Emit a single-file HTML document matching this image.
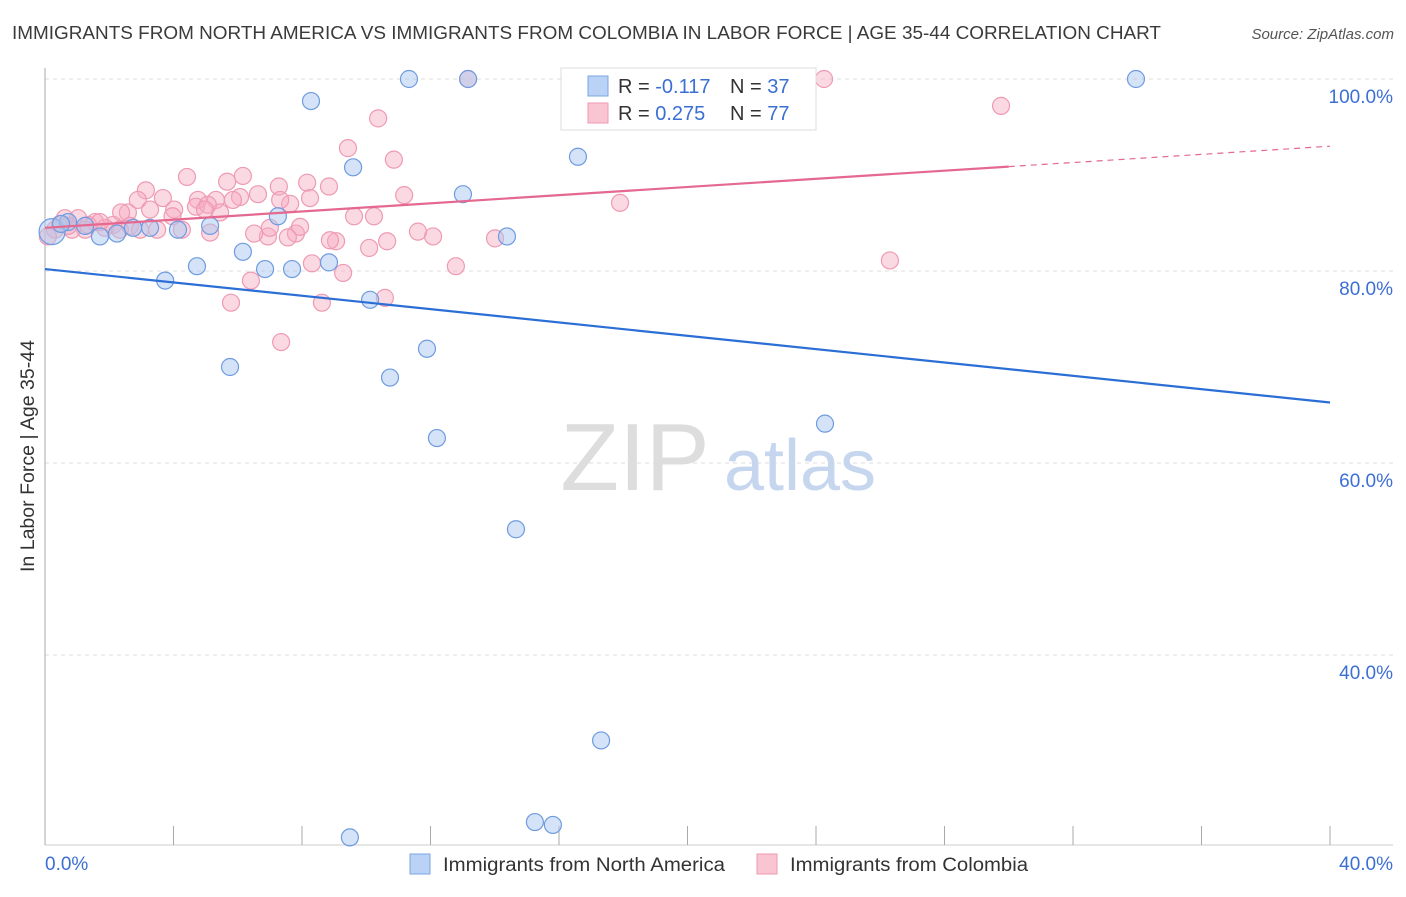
<!DOCTYPE html>
<html><head><meta charset="utf-8">
<style>
body{margin:0;background:#fff;font-family:"Liberation Sans",sans-serif;}
svg text{font-family:"Liberation Sans",sans-serif;}
</style></head>
<body>
<svg id="chart" width="1406" height="892" xmlns="http://www.w3.org/2000/svg">
<text x="12" y="39" font-size="18" fill="#3a3a3a" textLength="1149" lengthAdjust="spacingAndGlyphs">IMMIGRANTS FROM NORTH AMERICA VS IMMIGRANTS FROM COLOMBIA IN LABOR FORCE | AGE 35-44 CORRELATION CHART</text>
<text x="1394" y="39" font-size="15" fill="#555" text-anchor="end" font-style="italic">Source: ZipAtlas.com</text>
<g id="grid"></g>
<g>
<text x="635" y="490" font-size="96" font-family="Liberation Serif" fill="#ddd" text-anchor="middle">ZIP</text>
<text x="800" y="490" font-size="72" fill="#c5d6ee" text-anchor="middle">atlas</text>
</g>
<g id="marks"></g>
<text transform="translate(34,456) rotate(-90)" font-size="19" fill="#333" text-anchor="middle" textLength="232" lengthAdjust="spacingAndGlyphs">In Labor Force | Age 35-44</text>
<g>
<rect x="561" y="68" width="255" height="62" fill="#fff" stroke="#ddd"/>
<rect x="588" y="76" width="20" height="20" fill="#b9d2f5" stroke="#7aa5e0"/>
<rect x="588" y="103" width="20" height="20" fill="#f9c5d3" stroke="#ee9ab2"/>
<text x="618" y="93" font-size="20" fill="#333">R = <tspan fill="#3b6fd4">-0.117</tspan></text>
<text x="730" y="93" font-size="20" fill="#333">N = <tspan fill="#3b6fd4">37</tspan></text>
<text x="618" y="120" font-size="20" fill="#333">R = <tspan fill="#3b6fd4"> 0.275</tspan></text>
<text x="730" y="120" font-size="20" fill="#333">N = <tspan fill="#3b6fd4">77</tspan></text>
</g>
<g>
<rect x="410" y="854" width="20" height="20" fill="#b9d2f5" stroke="#7aa5e0"/>
<text x="443" y="871" font-size="19" fill="#333" textLength="282" lengthAdjust="spacingAndGlyphs">Immigrants from North America</text>
<rect x="757" y="854" width="20" height="20" fill="#f9c5d3" stroke="#ee9ab2"/>
<text x="790" y="871" font-size="19" fill="#333" textLength="238" lengthAdjust="spacingAndGlyphs">Immigrants from Colombia</text>
</g>
</svg>
<script>
const xTicks=[0,4,8,12,16,20,24,28,32,36,40];
const yTicks=[40,60,80,100];
const yTickLabels=["40.0%","60.0%","80.0%","100.0%"];
const xEndLabels=["0.0%","40.0%"];
const naX=[0.22,0.72,1.71,2.24,2.74,3.27,3.74,4.14,4.73,5.14,5.76,6.16,6.85,7.25,7.69,8.28,8.84,9.59,10.12,10.74,11.33,11.89,12.2,13.01,13.17,14.38,14.66,16.59,17.31,15.25,15.81,9.49,20.76,24.28,33.96,1.25,0.5];
const naY=[84.1,85.1,83.6,83.9,84.5,84.5,79.0,84.3,80.5,84.7,70.0,82.0,80.2,85.7,80.2,97.7,80.9,90.8,77.0,68.9,100,71.9,62.6,88.0,100,83.6,53.1,91.9,31.1,22.6,22.3,21.0,100,64.1,100,84.7,84.9];
const coX=[13.17,24.25,29.76,10.37,9.43,10.86,4.42,6.16,5.67,8.16,7.28,8.84,3.14,11.18,17.9,26.3,12.79,9.28,10.58,5.79,8.62,7.35,6.41,12.08,14.01,10.09,8.31,9.62,10.24,9.06,10.65,6.94,6.51,7.81,5.14,4.26,3.49,2.89,3.67,4.76,5.32,4.70,4.02,2.58,2.37,3.27,5.45,7.63,6.63,6.07,5.85,5.07,2.12,1.56,1.03,0.62,0.31,0.09,1.25,1.87,0.84,1.34,2.65,2.96,7.94,7.0,7.56,0.47,1.71,3.97,4.98,8.25,8.87,7.32,11.61,2.33,0.72];
const coY=[100,100,97.2,95.9,92.8,91.6,89.8,89.9,89.3,89.2,88.8,88.8,88.4,87.9,87.1,81.1,80.5,79.8,77.2,76.7,76.7,72.6,79.0,83.6,83.4,82.4,80.8,85.7,85.7,83.1,83.1,83.6,83.9,83.9,84.0,84.3,84.3,87.4,87.6,87.4,87.4,86.7,86.4,86.1,86.1,86.4,86.1,87.0,88.0,87.7,87.4,86.9,84.8,85.1,85.5,85.5,84.3,83.6,84.3,84.5,84.3,84.8,84.7,84.3,84.6,84.5,83.5,84.9,85.1,85.7,86.4,87.6,83.2,87.4,84.1,84.3,84.7];
const naLine=[80.2,66.3];
const coLine=[84.5,93.0];
const coSolidEnd=30;
const X=v=>45+v*32.125, Y=v=>79+(100-v)*9.6;
const NS="http://www.w3.org/2000/svg";
function mk(tag,attrs,parent){const e=document.createElementNS(NS,tag);for(const k in attrs)e.setAttribute(k,attrs[k]);parent.appendChild(e);return e;}
const grid=document.getElementById('grid'), marks=document.getElementById('marks');
yTicks.forEach((t,i)=>{
 const l=mk('line',{x1:45,x2:1393,y1:Y(t),y2:Y(t),stroke:'#ddd','stroke-dasharray':'4,4'},grid);
 
 
 const tx=mk('text',{x:1393,y:Y(t)+24,'font-size':19,fill:'#3b6fd4','text-anchor':'end'},grid);
 tx.textContent=yTickLabels[i];
 
 
});
const ax=mk('line',{x1:45,x2:45,y1:68,y2:845,stroke:'#aaa'},grid);


const bx=mk('line',{x1:45,x2:1393,y1:845,y2:845,stroke:'#ccc'},grid);


xTicks.forEach(t=>{
 const l=mk('line',{x1:X(t),x2:X(t),y1:826,y2:845,stroke:'#aaa'},grid);
 
 
});
[[0,'start'],[40,'end']].forEach((p,i)=>{
 const tx=mk('text',{x:i?1393:45,y:870,'font-size':19,fill:'#3b6fd4','text-anchor':p[1]},grid);
 tx.textContent=xEndLabels[i];
 
 
});
coX.forEach((x,i)=>{
 const c=mk('circle',{cx:X(x),cy:Y(coY[i]),r:8.5,fill:'rgba(246,170,192,0.45)',stroke:'#ee9ab2','stroke-width':1.2},marks);
 
 
});
naX.forEach((x,i)=>{
 const c=mk('circle',{cx:X(x),cy:Y(naY[i]),r:i==0?13:8.5,fill:'rgba(170,200,240,0.5)',stroke:'#6f9be0','stroke-width':1.2},marks);
 
 
});
const lv=(a,x)=>a[0]+(a[1]-a[0])*x/40;
const bl=mk('line',{x1:X(0),y1:Y(naLine[0]),x2:X(40),y2:Y(naLine[1]),stroke:'#2a6ed6','stroke-width':2.2},marks);


const pl=mk('line',{x1:X(0),y1:Y(coLine[0]),x2:X(coSolidEnd),y2:Y(lv(coLine,coSolidEnd)),stroke:'#e4688f','stroke-width':2.2},marks);


const pd=mk('line',{x1:X(coSolidEnd),y1:Y(lv(coLine,coSolidEnd)),x2:X(40),y2:Y(coLine[1]),stroke:'#e4688f','stroke-width':1.2,'stroke-dasharray':'6,5'},marks);


</script>
</body></html>
